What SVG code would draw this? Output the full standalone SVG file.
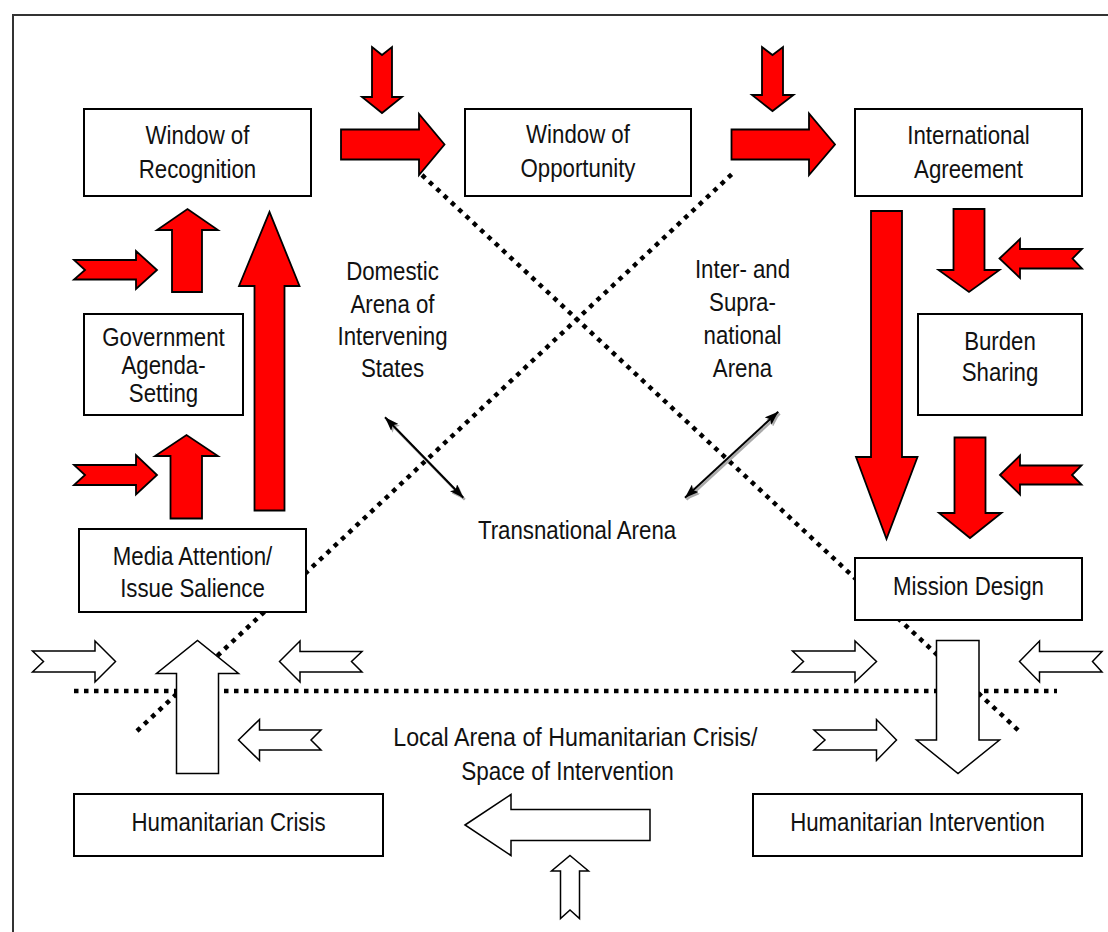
<svg xmlns="http://www.w3.org/2000/svg" width="1108" height="932" viewBox="0 0 1108 932">
<style>
.box{fill:#fff;stroke:#000;stroke-width:2}
.t{font-family:"Liberation Sans",Arial,sans-serif;font-size:25px;fill:#111;text-anchor:middle}
.red{fill:#ff0000;stroke:#000;stroke-width:1.8;stroke-linejoin:miter}
.wht{fill:#fff;stroke:#000;stroke-width:1.5;stroke-linejoin:miter}
.dot{fill:none;stroke:#000;stroke-width:4.5;stroke-dasharray:4.5 5.5}
.dbl{stroke:#000;stroke-width:2;marker-start:url(#ah);marker-end:url(#ah)}
.shd{stroke:#aaa;stroke-width:2.5;marker-start:url(#ahs);marker-end:url(#ahs)}
</style>
<defs>
<marker id="ah" viewBox="0 0 14 10" markerWidth="14" markerHeight="10" markerUnits="userSpaceOnUse" refX="14" refY="5" orient="auto-start-reverse"><path d="M0,0 L14,5 L0,10 L3,5 z" fill="#000"/></marker>
<marker id="ahs" viewBox="0 0 14 10" markerWidth="14" markerHeight="10" markerUnits="userSpaceOnUse" refX="14" refY="5" orient="auto-start-reverse"><path d="M0,0 L14,5 L0,10 L3,5 z" fill="#aaa"/></marker>
</defs>
<rect width="1108" height="932" fill="#fff"/>
<path d="M13,932 V15 H1108" fill="none" stroke="#333" stroke-width="2"/>

<g id="arena-boundaries">
<line class="dot" x1="74" y1="691" x2="1057" y2="691"/>
<line class="dot" x1="422" y1="175" x2="1019" y2="731"/>
<line class="dot" x1="137" y1="731" x2="732" y2="174"/>
</g>

<g id="connectors">
<line class="shd" x1="386.5" y1="419.3" x2="464.8" y2="499.7"/>
<line class="dbl" x1="385" y1="417.3" x2="463.3" y2="497.7"/>
<line class="shd" x1="686.5" y1="499.7" x2="779.8" y2="413.7"/>
<line class="dbl" x1="685" y1="497.7" x2="778.3" y2="411.7"/>

<polygon class="red" points="372,47 382,55 392,47 392,97 402,97 382,113 362,97 372,97"/>
<polygon class="red" points="762,47 772.5,55 783,47 783,95 793.5,95 772.5,111 752,95 762,95"/>
<polygon class="red" points="341,129.5 419,129.5 419,114 444.5,144.5 419,175 419,159.5 341,159.5"/>
<polygon class="red" points="731.5,129.5 809,129.5 809,113.5 835,144.5 809,175 809,159.5 731.5,159.5"/>
<polygon class="red" points="74,260 136,260 136,251 157,270 136,289 136,279.5 74,279.5 85,270"/>
<polygon class="red" points="172,292 172,230 157,230 187.5,209 218,230 202,230 202,292"/>
<polygon class="red" points="74,465 136,465 136,455 157,475 136,494.5 136,485 74,485 85,475"/>
<polygon class="red" points="170.5,518.5 170.5,456 155,456 186.5,435 218,456 202,456 202,518.5"/>
<polygon class="red" points="254.5,510.5 254.5,286 239,286 269.5,212 299.5,286 284.5,286 284.5,510.5"/>
<polygon class="red" points="871,211 902,211 902,457 917.5,457 886.5,539 856,457 871,457"/>
<polygon class="red" points="953.5,209 984.5,209 984.5,270 999.5,270 969,292 938.5,270 953.5,270"/>
<polygon class="red" points="999.5,258.5 1020,239 1020,249 1082,249 1072.5,258.5 1082,268.5 1020,268.5 1020,278"/>
<polygon class="red" points="954.5,437.5 985.5,437.5 985.5,513 1001.5,513 970,538 939,513 954.5,513"/>
<polygon class="red" points="1000,475 1020,455.5 1020,465.5 1081.5,465.5 1072,475 1081.5,484.5 1020,484.5 1020,494.5"/>

<polygon class="wht" points="32.5,651 95,651 95,641 115.5,661.5 95,682 95,672 32.5,672 43.5,661.5"/>
<polygon class="wht" points="176.5,773.5 176.5,673.5 156.5,673.5 197.5,640.5 238.5,673.5 218.5,673.5 218.5,773.5"/>
<polygon class="wht" points="279.5,661.5 300,641 300,651.5 362,651.5 351.5,661.5 362,672 300,672 300,682"/>
<polygon class="wht" points="238.5,740 259.5,719.5 259.5,730 321,730 311,740 321,750 259.5,750 259.5,760.5"/>
<polygon class="wht" points="792.5,651 855,651 855,641 876.5,661.5 855,682 855,672 792.5,672 803.5,661.5"/>
<polygon class="wht" points="936.5,640.5 979,640.5 979,740 999.5,740 958,773.5 916.5,740 936.5,740"/>
<polygon class="wht" points="1019.5,661.5 1039.5,641 1039.5,651.5 1102,651.5 1092.5,661.5 1102,672 1039.5,672 1039.5,682"/>
<polygon class="wht" points="814,730 876.5,730 876.5,719.5 896.5,740 876.5,760.5 876.5,750 814,750 825,740"/>
<polygon class="wht" points="465,825 511,794.5 511,809.5 650,809.5 650,840.5 511,840.5 511,855.5"/>
<polygon class="wht" points="570,855.5 588.5,871 579.5,871 579.5,918.5 570,910 560.5,918.5 560.5,871 551.5,871"/>
</g>

<g id="window-of-recognition">
<rect class="box" x="84" y="109" width="227" height="87"/>
<text class="t" transform="translate(197.5,0) scale(0.89,1)"><tspan x="0" y="144">Window of</tspan><tspan x="0" y="178">Recognition</tspan></text>
</g>
<g id="window-of-opportunity">
<rect class="box" x="465" y="109" width="226" height="87"/>
<text class="t" transform="translate(578,0) scale(0.89,1)"><tspan x="0" y="143.5">Window of</tspan><tspan x="0" y="177">Opportunity</tspan></text>
</g>
<g id="international-agreement">
<rect class="box" x="855" y="109" width="227" height="87"/>
<text class="t" transform="translate(968.5,0) scale(0.89,1)"><tspan x="0" y="144">International</tspan><tspan x="0" y="178">Agreement</tspan></text>
</g>
<g id="government-agenda-setting">
<rect class="box" x="84" y="314" width="159" height="101"/>
<text class="t" transform="translate(163.5,0) scale(0.89,1)"><tspan x="0" y="346">Government</tspan><tspan x="0" y="374.5">Agenda-</tspan><tspan x="0" y="402">Setting</tspan></text>
</g>
<g id="media-attention">
<rect class="box" x="79" y="529" width="227" height="83"/>
<text class="t" transform="translate(192.5,0) scale(0.89,1)"><tspan x="0" y="565">Media Attention/</tspan><tspan x="0" y="597.5">Issue Salience</tspan></text>
</g>
<g id="burden-sharing">
<rect class="box" x="918" y="314" width="164" height="101"/>
<text class="t" transform="translate(1000,0) scale(0.89,1)"><tspan x="0" y="350">Burden</tspan><tspan x="0" y="381.5">Sharing</tspan></text>
</g>
<g id="mission-design">
<rect class="box" x="855" y="558" width="227" height="62"/>
<text class="t" transform="translate(968.5,595) scale(0.89,1)">Mission Design</text>
</g>
<g id="humanitarian-crisis">
<rect class="box" x="74" y="794" width="309" height="62"/>
<text class="t" transform="translate(228.5,831) scale(0.89,1)">Humanitarian Crisis</text>
</g>
<g id="humanitarian-intervention">
<rect class="box" x="753" y="794" width="329" height="62"/>
<text class="t" transform="translate(917.5,831) scale(0.89,1)">Humanitarian Intervention</text>
</g>

<g id="arena-labels">
<text class="t" transform="translate(392.5,0) scale(0.89,1)"><tspan x="0" y="280.5">Domestic</tspan><tspan x="0" y="312.8">Arena of</tspan><tspan x="0" y="345">Intervening</tspan><tspan x="0" y="377.5">States</tspan></text>
<text class="t" transform="translate(742.5,0) scale(0.89,1)"><tspan x="0" y="278.5">Inter- and</tspan><tspan x="0" y="311.5">Supra-</tspan><tspan x="0" y="344.3">national</tspan><tspan x="0" y="377">Arena</tspan></text>
<text class="t" transform="translate(577,539.3) scale(0.89,1)">Transnational Arena</text>
<text class="t" transform="translate(575.3,746) scale(0.93,1)">Local Arena of Humanitarian Crisis/</text>
<text class="t" transform="translate(567.5,779.5) scale(0.9,1)">Space of Intervention</text>
</g>
</svg>
